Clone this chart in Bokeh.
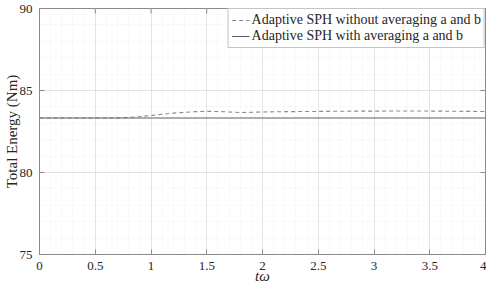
import math
from bokeh.plotting import figure
from bokeh.models import Range1d, SingleIntervalTicker, Legend, LegendItem
from bokeh.embed import file_html
from bokeh.resources import INLINE

# ---- data ----
t = [0.0, 0.2, 0.4, 0.6, 0.65, 0.7, 0.8, 0.9, 1.0, 1.1, 1.2, 1.3, 1.4, 1.5,
     1.6, 1.7, 1.8, 1.9, 2.0, 2.2, 2.4, 2.6, 2.8, 3.0, 3.2, 3.4, 3.6, 3.8, 4.0]
e_without = [83.32, 83.32, 83.32, 83.32, 83.32, 83.33, 83.36, 83.41, 83.48, 83.55,
             83.62, 83.67, 83.71, 83.73, 83.72, 83.69, 83.66, 83.67, 83.69, 83.71,
             83.72, 83.73, 83.74, 83.74, 83.75, 83.75, 83.74, 83.73, 83.72]
e_with = [83.32] * len(t)

xticks = [0, 0.5, 1, 1.5, 2, 2.5, 3, 3.5, 4]
xtick_labels = ["0", "0.5", "1", "1.5", "2", "2.5", "3", "3.5", "4"]
yticks = [75, 80, 85, 90]
ytick_labels = ["75", "80", "85", "90"]
label_without = "Adaptive SPH without averaging a and b"
label_with = "Adaptive SPH with averaging a and b"

FONT = "Liberation Serif"
AX = "#8a8a8a"
TXT = "#262626"

p = figure(width=486, height=286, output_backend="svg", toolbar_location=None,
           x_range=Range1d(0, 4), y_range=Range1d(75, 90),
           min_border_left=0, min_border_right=1, min_border_top=8, min_border_bottom=0,
           x_axis_label="tω", y_axis_label="Total Energy (Nm)")
p.outline_line_color = AX
p.background_fill_color = "white"

xt = SingleIntervalTicker(interval=0.5, num_minor_ticks=5)
yt = SingleIntervalTicker(interval=5, num_minor_ticks=5)

for ax in p.xaxis:
    ax.ticker = xt
    ax.major_label_overrides = {k: v for k, v in zip(xticks, xtick_labels)}
    ax.axis_label_text_font_style = "italic"
    ax.axis_label_standoff = -5
for ax in p.yaxis:
    ax.ticker = yt
    ax.major_label_overrides = {k: v for k, v in zip(yticks, ytick_labels)}
    ax.axis_label_text_font_style = "normal"
    ax.axis_label_standoff = -3

for ax in p.xaxis + p.yaxis:
    ax.axis_line_color = AX
    ax.major_tick_line_color = AX
    ax.major_tick_in = 5
    ax.major_tick_out = 0
    ax.minor_tick_line_color = None
    ax.major_label_text_font = FONT
    ax.major_label_text_font_size = "13px"
    ax.major_label_text_color = TXT
    ax.axis_label_text_font = FONT
    ax.axis_label_text_font_size = "15px"
    ax.axis_label_text_color = TXT
    ax.major_label_standoff = 3

p.xgrid.ticker = xt
p.ygrid.ticker = yt
for g in (p.xgrid, p.ygrid):
    g.grid_line_color = "#e3e3e3"
    g.minor_grid_line_color = "#ececec"
    g.minor_grid_line_dash = "1 2"

# mirrored inward ticks on the top and right edges of the box
p.scatter(x=xticks, y=[yticks[-1]] * len(xticks), marker="dash", angle=math.pi / 2,
          size=10, line_color=AX, line_width=1)
p.scatter(x=[xticks[-1]] * len(yticks), y=yticks, marker="dash",
          size=10, line_color=AX, line_width=1)

r1 = p.line(t, e_without, line_color="#8a8a8a", line_width=1.1, line_dash="4 3")
r2 = p.line(t, e_with, line_color="#5e5e5e", line_width=1.1)

legend = Legend(items=[LegendItem(label=label_without, renderers=[r1]),
                       LegendItem(label=label_with, renderers=[r2])],
                location="top_right")
legend.margin = 0
legend.padding = 3
legend.spacing = 0
legend.label_height = 16
legend.glyph_height = 16
legend.glyph_width = 18
legend.label_standoff = 2
legend.label_text_font = FONT
legend.label_text_font_size = "14px"
legend.label_text_color = TXT
legend.border_line_color = AX
legend.background_fill_alpha = 1
p.add_layout(legend)

open("out.html", "w").write(file_html(p, INLINE))
